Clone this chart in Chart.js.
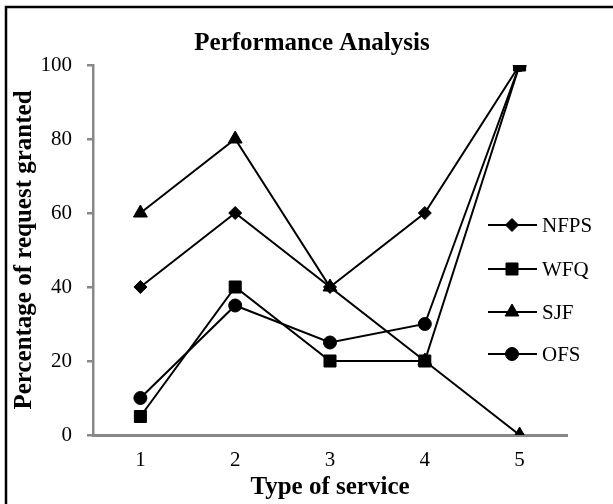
<!DOCTYPE html>
<html>
<head>
<meta charset="utf-8">
<script src="https://cdn.jsdelivr.net/npm/chart.js@4/dist/chart.umd.min.js"></script>
<style>
  html, body { margin: 0; padding: 0; background: #fff; }
  #wrap { width: 613px; height: 504px; position: relative; }
</style>
</head>
<body>
<div id="wrap"><canvas id="c" width="613" height="504"></canvas></div>
<script>
// Service types on the x axis
const categories = ['1', '2', '3', '4', '5'];

// Percentage of requests granted per scheduler
const nfps = [40, 60, 40, 60, 100];
const wfq  = [5, 40, 20, 20, 100];
const sjf  = [60, 80, 40, 20, 0];
const ofs  = [10, 35, 25, 30, 100];

const seriesNames = ['NFPS', 'WFQ', 'SJF', 'OFS'];
const yTicks = [0, 20, 40, 60, 80, 100];
const chartTitle = 'Performance Analysis';

const SERIF = "'Liberation Serif', 'Times New Roman', serif";
const markers = [
  { style: 'rectRot',  radius: 6.5 },
  { style: 'rect',     radius: 8.5 },
  { style: 'triangle', radius: 8 },
  { style: 'circle',   radius: 6.5 }
];

function makeSet(i, data) {
  return {
    label: seriesNames[i],
    data: data,
    borderColor: '#000',
    backgroundColor: '#000',
    borderWidth: 2,
    pointStyle: markers[i].style,
    pointRadius: markers[i].radius,
    pointBorderWidth: 1,
    pointBackgroundColor: '#000',
    pointBorderColor: '#000',
    tension: 0,
    order: 4 - i
  };
}

// Frame around the figure (top and left edges) plus the heading
const framePlugin = {
  id: 'frame',
  afterDraw(chart) {
    const ctx = chart.ctx;
    ctx.save();
    ctx.strokeStyle = '#000';
    ctx.lineWidth = 2.5;
    ctx.beginPath();
    ctx.moveTo(6, 520);
    ctx.lineTo(6, 7);
    ctx.lineTo(640, 7);
    ctx.stroke();

    ctx.fillStyle = '#000';
    ctx.font = 'bold 25px ' + SERIF;
    ctx.textAlign = 'center';
    ctx.textBaseline = 'middle';
    ctx.fillText(chartTitle, 312, 44);
    ctx.restore();
  }
};

// Legend rows: short line with the series marker in the middle
const lineLegend = {
  id: 'lineLegend',
  afterDraw(chart) {
    const ctx = chart.ctx;
    const x0 = 488, x1 = 537, xm = 512, xt = 542;
    const rows = [225, 269, 312, 354];
    ctx.save();
    chart.data.datasets.forEach((ds, i) => {
      const y = rows[i];
      ctx.strokeStyle = '#000';
      ctx.lineWidth = 2;
      ctx.beginPath();
      ctx.moveTo(x0, y);
      ctx.lineTo(x1, y);
      ctx.stroke();
      ctx.fillStyle = '#000';
      ctx.lineWidth = 1;
      Chart.helpers.drawPoint(ctx, {
        pointStyle: ds.pointStyle,
        radius: ds.pointRadius,
        borderWidth: 1,
        rotation: 0
      }, xm, y);
      ctx.font = '21px ' + SERIF;
      ctx.textBaseline = 'middle';
      ctx.textAlign = 'left';
      ctx.fillText(ds.label, xt, y + 1);
    });
    ctx.restore();
  }
};

new Chart(document.getElementById('c'), {
  type: 'line',
  data: {
    labels: categories,
    datasets: [makeSet(0, nfps), makeSet(1, wfq), makeSet(2, sjf), makeSet(3, ofs)]
  },
  options: {
    responsive: false,
    animation: false,
    devicePixelRatio: 1,
    layout: { padding: { left: 0, right: 46, top: 65, bottom: 0 } },
    plugins: {
      legend: { display: false },
      tooltip: { enabled: false },
      title: { display: false }
    },
    scales: {
      x: {
        type: 'category',
        offset: true,
        grid: { display: false, drawTicks: false },
        border: { display: true, color: '#888', width: 3 },
        ticks: { color: '#000', font: { family: SERIF, size: 21 }, padding: 13, maxRotation: 0 },
        title: {
          display: true,
          text: 'Type of service',
          color: '#000',
          font: { family: SERIF, size: 25, weight: 'bold' },
          padding: { top: 0, bottom: 1 }
        },
        afterFit(scale) { scale.height = 69; }
      },
      y: {
        min: 0,
        max: 100,
        afterBuildTicks(scale) { scale.ticks = yTicks.map(v => ({ value: v })); },
        grid: { drawOnChartArea: false, drawTicks: true, tickLength: 6, color: '#888', lineWidth: 2.5 },
        border: { display: true, color: '#888', width: 2.5 },
        ticks: { color: '#000', font: { family: SERIF, size: 21 }, padding: 15 },
        title: {
          display: true,
          text: 'Percentage of request granted',
          color: '#000',
          font: { family: SERIF, size: 25, weight: 'bold' },
          padding: { top: 10, bottom: 0 }
        },
        afterFit(scale) { scale.width = 93; }
      }
    }
  },
  plugins: [framePlugin, lineLegend]
});
</script>
</body>
</html>
